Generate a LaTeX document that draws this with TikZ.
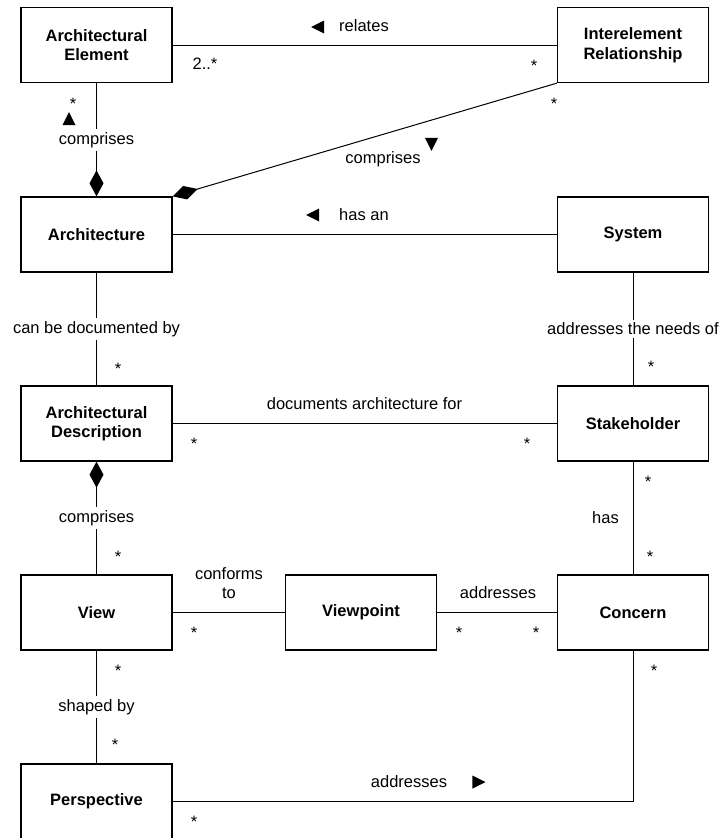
\documentclass[tikz,border=0pt]{standalone}
\usepackage{fontspec}
\setmainfont{Liberation Sans}
\usetikzlibrary{arrows.meta,shapes.geometric}

\begin{document}
\begin{tikzpicture}[x=1pt,y=-1pt,
    block/.style={draw,line width=1.3pt,minimum width=151pt,minimum height=75pt,inner sep=0pt,align=center,font=\fontsize{16.5}{19.5}\selectfont\bfseries},
    lbl/.style={inner sep=2pt,align=center,font=\fontsize{16.5}{19.5}\selectfont},
    cut/.style={lbl,fill=white,inner sep=3pt},
    mult/.style={inner sep=0pt,yshift=-3.5pt,font=\fontsize{16.5}{19.5}\selectfont},
    dirmark/.style={isosceles triangle,isosceles triangle stretches,fill,inner sep=0pt,minimum width=13pt,minimum height=13pt},
    link/.style={line width=1pt},
    owns/.style={-{Diamond[length=26pt,width=14pt]}}]
    \useasboundingbox (0,0) rectangle (721,838);
    % the class boxes
    \node[block] (ae) at (96.5,45) {Architectural\\Element};
    \node[block] (ir) at (633,45) {Interelement\\Relationship};
    \node[block] (arch) at (96.5,234.5) {Architecture};
    \node[block] (sys) at (633,234.5) {System};
    \node[block] (ad) at (96.5,423.5) {Architectural\\Description};
    \node[block] (stake) at (633,423.5) {Stakeholder};
    \node[block] (view) at (96.5,612.5) {View};
    \node[block] (vp) at (361,612.5) {Viewpoint};
    \node[block] (concern) at (633,612.5) {Concern};
    \node[block] (persp) at (96.5,801.5) {Perspective};

    % the associations
    \draw[link] (ae) -- (ir);
    \draw[link,owns] (ir.south west) -- (arch.north east);
    \draw[link,owns] (ae) -- (arch);
    \draw[link] (arch) -- (sys);
    \draw[link] (arch) -- (ad);
    \draw[link] (sys) -- (stake);
    \draw[link] (ad) -- (stake);
    \draw[link,owns] (view) -- (ad);
    \draw[link] (stake) -- (concern);
    \draw[link] (view) -- (vp);
    \draw[link] (vp) -- (concern);
    \draw[link] (view) -- (persp);
    \draw[link] (persp) -| (concern);

    % relates
    \node[dirmark,shape border rotate=180] (relmark) at (320,27) {};
    \node[lbl] (relates) at (364,26) {relates};
    \node[lbl,inner sep=0pt] (ae-rel) at (205,64) {2..*};
    \node[mult] (ir-rel) at (534,62) {*};
    % comprises (relationships)
    \node[mult] (ir-cmp) at (554,100) {*};
    \node[dirmark,shape border rotate=270] (cmpmark) at (431.5,142) {};
    \node[lbl] (cmp-ir) at (383,159) {comprises};
    % comprises (elements)
    \node[mult] (ae-cmp) at (73,100) {*};
    \node[dirmark,shape border rotate=90] (aemark) at (69,121) {};
    \node[cut] (cmp-ae) at (96.5,140) {comprises};
    % has an
    \node[dirmark,shape border rotate=180] (hasmark) at (315,215) {};
    \node[lbl] (hasan) at (364,215) {has an};
    % documented by
    \node[cut] (docby) at (96.5,329) {can be documented by};
    \node[mult] (ad-doc) at (118,365) {*};
    % needs of
    \node[cut] (needs) at (633,329) {addresses the needs of};
    \node[mult] (stake-need) at (651,363) {*};
    % documents architecture for
    \node[lbl] (docfor) at (364.5,404) {documents architecture for};
    \node[mult] (ad-for) at (194,440) {*};
    \node[mult] (stake-for) at (527,440) {*};
    % comprises (views)
    \node[cut] (cmp-view) at (96.5,518) {comprises};
    \node[mult] (view-cmp) at (118,553) {*};
    % has
    \node[lbl,anchor=east] (has) at (621,518) {has};
    \node[mult] (stake-has) at (648,478) {*};
    \node[mult] (concern-has) at (650,553) {*};
    % conforms to
    \node[lbl] (conforms) at (229,583) {conforms\\to};
    \node[mult] (view-conf) at (194,629) {*};
    % addresses (viewpoint)
    \node[lbl] (addr-vp) at (498,593) {addresses};
    \node[mult] (vp-addr) at (459,629) {*};
    \node[mult] (concern-vp) at (536,629) {*};
    % shaped by
    \node[mult] (view-shp) at (118,667) {*};
    \node[cut] (shaped) at (96.5,707) {shaped by};
    \node[mult] (persp-shp) at (115,741) {*};
    % addresses (perspective)
    \node[mult] (concern-addr) at (654,667) {*};
    \node[lbl] (addr-persp) at (409,782) {addresses};
    \node[dirmark] (addrmark) at (476.5,782) {};
    \node[mult] (persp-addr) at (194,818) {*};
\end{tikzpicture}
\end{document}
